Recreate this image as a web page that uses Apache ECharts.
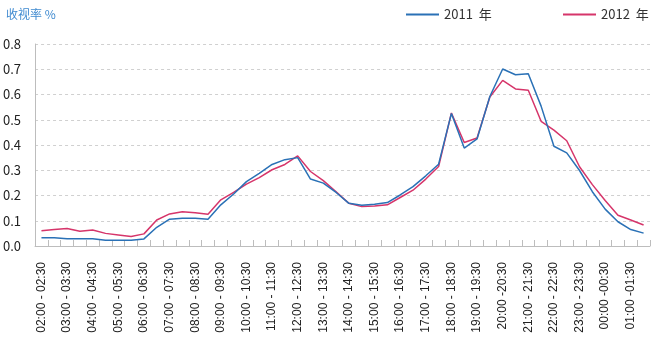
<!DOCTYPE html>
<html>
<head>
<meta charset="utf-8">
<script src="https://cdn.jsdelivr.net/npm/echarts@6/dist/echarts.min.js"></script>
<style>
  html, body { margin: 0; padding: 0; background: #fff; }
  #chart { width: 651px; height: 338px; }
</style>
</head>
<body>
<div id="chart"></div>
<script>
// Half-hour time slots, from 02:00 through to 01:30 the next morning
const timeSlots = [
  "02:00 - 02:30", "02:30 - 03:00", "03:00 - 03:30", "03:30 - 04:00",
  "04:00 - 04:30", "04:30 - 05:00", "05:00 - 05:30", "05:30 - 06:00",
  "06:00 - 06:30", "06:30 - 07:00", "07:00 - 07:30", "07:30 - 08:00",
  "08:00 - 08:30", "08:30 - 09:00", "09:00 - 09:30", "09:30 - 10:00",
  "10:00 - 10:30", "10:30 - 11:00", "11:00 - 11:30", "11:30 - 12:00",
  "12:00 - 12:30", "12:30 - 13:00", "13:00 - 13:30", "13:30 - 14:00",
  "14:00 - 14:30", "14:30 - 15:00", "15:00 - 15:30", "15:30 - 16:00",
  "16:00 - 16:30", "16:30 - 17:00", "17:00 - 17:30", "17:30 - 18:00",
  "18:00 - 18:30", "18:30 - 19:00", "19:00 - 19:30", "19:30 - 20:00",
  "20:00 -20:30", "20:30 - 21:00", "21:00 - 21:30", "21:30 - 22:00",
  "22:00 - 22:30", "22:30 - 23:00", "23:00 - 23:30", "23:30 - 00:00",
  "00:00 -00:30", "00:30 - 01:00", "01:00 -01:30", "01:30 - 02:00"
];

// Audience rating (%) per slot
const rating2011 = [
  0.033, 0.033, 0.029, 0.029, 0.029, 0.023, 0.023, 0.023,
  0.028, 0.074, 0.106, 0.110, 0.110, 0.106, 0.163, 0.206,
  0.255, 0.288, 0.323, 0.342, 0.350, 0.265, 0.249, 0.212,
  0.169, 0.161, 0.165, 0.172, 0.202, 0.235, 0.278, 0.324,
  0.525, 0.388, 0.424, 0.592, 0.701, 0.678, 0.682, 0.554,
  0.395, 0.369, 0.299, 0.215, 0.146, 0.096, 0.065, 0.051
];
const rating2012 = [
  0.060, 0.065, 0.069, 0.058, 0.063, 0.050, 0.044, 0.038,
  0.048, 0.103, 0.127, 0.136, 0.132, 0.126, 0.183, 0.212,
  0.245, 0.271, 0.302, 0.323, 0.357, 0.295, 0.259, 0.215,
  0.169, 0.156, 0.158, 0.163, 0.192, 0.221, 0.265, 0.315,
  0.527, 0.410, 0.428, 0.590, 0.656, 0.622, 0.617, 0.494,
  0.459, 0.417, 0.314, 0.243, 0.180, 0.122, 0.103, 0.083
];

const seriesNames = ["2011  年", "2012  年"];
const yTicks = { min: 0, max: 0.8, step: 0.1 };

const BLUE = "#2a71b6";
const RED = "#d6356a";
const TEXT_FONT = '"Liberation Sans Narrow", "Noto Sans CJK SC", sans-serif';

const chart = echarts.init(document.getElementById("chart"), null, { renderer: "canvas" });

chart.setOption({
  animation: false,
  backgroundColor: "#ffffff",
  title: {
    text: "收视率 %",
    left: 1,
    top: 3,
    textStyle: {
      color: "#3f8ad0",
      fontSize: 12,
      fontWeight: "normal",
      fontFamily: '"Noto Sans CJK SC", sans-serif'
    }
  },
  legend: [
    {
      data: [seriesNames[0]],
      left: 401,
      top: 3,
      icon: "rect",
      itemWidth: 33,
      itemHeight: 2,
      itemGap: 4,
      textStyle: { color: "#333", fontSize: 13, fontFamily: TEXT_FONT }
    },
    {
      data: [seriesNames[1]],
      left: 558,
      top: 3,
      icon: "rect",
      itemWidth: 33,
      itemHeight: 2,
      itemGap: 4,
      textStyle: { color: "#333", fontSize: 13, fontFamily: TEXT_FONT }
    }
  ],
  grid: { left: 34, right: 1, top: 44, bottom: 92, containLabel: false },
  xAxis: {
    type: "category",
    data: timeSlots,
    boundaryGap: true,
    axisLine: { show: true, lineStyle: { color: "#bdbdbd", width: 1 } },
    axisTick: {
      show: true,
      inside: true,
      length: 6,
      interval: 0,
      lineStyle: { color: "#bdbdbd" }
    },
    axisLabel: {
      interval: 1,
      rotate: 90,
      margin: 16,
      color: "#222",
      fontSize: 12,
      fontFamily: '"Liberation Sans", sans-serif'
    },
    splitLine: { show: false }
  },
  yAxis: {
    type: "value",
    min: yTicks.min,
    max: yTicks.max,
    interval: yTicks.step,
    axisLine: { show: true, lineStyle: { color: "#bdbdbd", width: 1 } },
    axisTick: { show: false },
    axisLabel: {
      margin: 14,
      color: "#222",
      fontSize: 13,
      fontFamily: TEXT_FONT,
      formatter: (v) => v.toFixed(1)
    },
    splitLine: { show: true, lineStyle: { color: "#d0d0d0", type: [3, 3], width: 1 } }
  },
  series: [
    {
      name: seriesNames[0],
      type: "line",
      data: rating2011,
      symbol: "none",
      lineStyle: { color: BLUE, width: 1.5 },
      itemStyle: { color: BLUE },
      z: 3
    },
    {
      name: seriesNames[1],
      type: "line",
      data: rating2012,
      symbol: "none",
      lineStyle: { color: RED, width: 1.5 },
      itemStyle: { color: RED },
      z: 2
    }
  ]
});
</script>
</body>
</html>
